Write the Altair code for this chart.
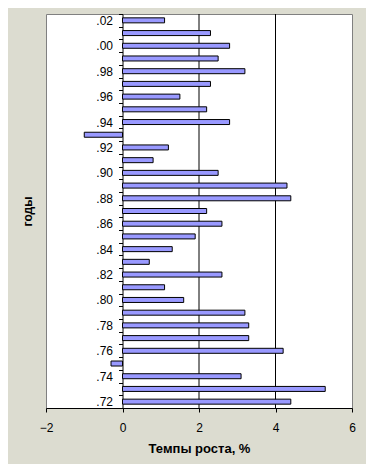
import altair as alt
import pandas as pd

years = list(range(1972, 2003))
growth = [4.4, 5.3, 3.1, -0.3, 4.2, 3.3, 3.3, 3.2, 1.6, 1.1,
          2.6, 0.7, 1.3, 1.9, 2.6, 2.2, 4.4, 4.3, 2.5, 0.8,
          1.2, -1.0, 2.8, 2.2, 1.5, 2.3, 3.2, 2.5, 2.8, 2.3, 1.1]
x_ticks = [-2, 0, 2, 4, 6]
gridlines = [2, 4]

df = pd.DataFrame({"year": years, "growth": growth})
gdf = pd.DataFrame({"growth": gridlines})

FONT = "Liberation Sans"
W, H = 306, 394

rules = alt.Chart(gdf).mark_rule(color="black", strokeWidth=1).encode(
    x=alt.X("growth:Q")
)

bars = alt.Chart(df).mark_bar(size=5, color="#9999FF", stroke="black", strokeWidth=1).encode(
    x=alt.X("growth:Q",
            scale=alt.Scale(domain=[-2, 6], nice=False, zero=False),
            axis=alt.Axis(values=x_ticks, title="Темпы роста, %", grid=False,
                          domainColor="black", tickColor="black", tickSize=4,
                          labelPadding=19, labelBaseline="alphabetic",
                          labelFont=FONT, labelFontSize=12,
                          labelColor="black", labelFlush=False, labelOverlap=False,
                          titleFont=FONT, titleFontSize=13, titleFontWeight="bold",
                          titleColor="black", titleBaseline="alphabetic",
                          titleY=44, titleX=W / 2, titleAlign="center")),
    y=alt.Y("year:O", sort="descending",
            scale=alt.Scale(paddingInner=0, paddingOuter=0),
            axis=alt.Axis(title="годы", offset=-W * 0.25, tickBand="extent",
                          labelExpr="datum.value % 2 == 0 ? '.' + substring(toString(datum.value), 2, 4) : ''",
                          labelOverlap=False, domainColor="black", tickColor="black",
                          tickSize=4, labelPadding=6, labelFont=FONT, labelFontSize=12,
                          labelColor="black", labelAngle=0, labelBaseline="middle",
                          grid=False,
                          titleFont=FONT, titleFontSize=12, titleFontWeight="bold",
                          titleColor="black", titleAngle=-90, titleX=-95, titleY=H / 2,
                          titleBaseline="middle", titleAlign="center")),
)

chart = alt.layer(rules, bars).properties(
    width=W, height=H,
    autosize=alt.AutoSizeParams(type="none"),
    padding={"left": 38, "top": 6, "right": 14, "bottom": 56},
    background="#DCDCD0",
).configure_view(stroke="#808080", strokeWidth=1, fill="white")

chart.save("out.html", embed_options={"renderer": "svg", "actions": False})
